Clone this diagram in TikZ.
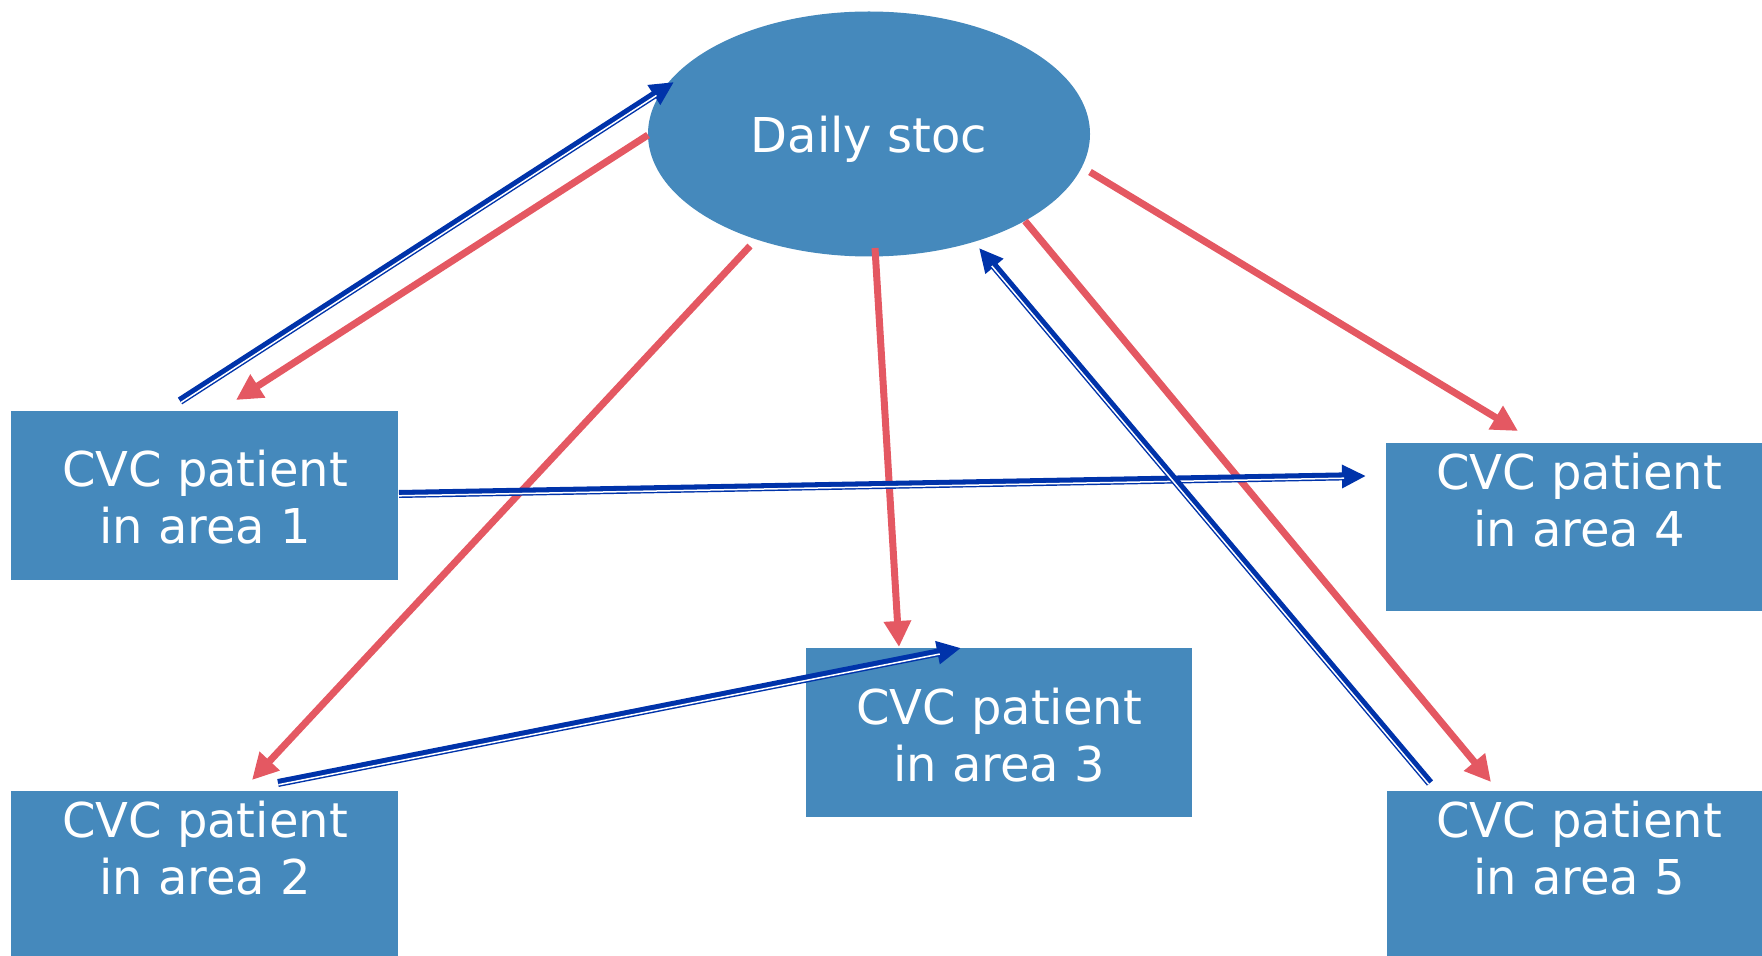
\documentclass[tikz,border=0pt]{standalone}
\usepackage{fontspec}
\setmainfont{DejaVu Sans}
\usetikzlibrary{calc,arrows.meta}
\definecolor{boxblue}{RGB}{69,137,188}
\definecolor{redarr}{RGB}{228,88,98}
\definecolor{bluearr}{RGB}{0,51,170}
\tikzset{
  box/.style={fill=boxblue,draw=none,inner sep=0pt},
  lbl/.style={text=white,align=center,font=\fontsize{24}{28.7}\selectfont,inner sep=0pt},
  redline/.style={draw=redarr,line width=3.5pt,-{Triangle[length=13pt,width=13pt]}},
  blueline/.style={draw=bluearr,line width=4pt,-{Triangle[length=12pt,width=11pt]}},
  gapline/.style={draw=white,line width=0.75pt,shorten >=11pt},
}
\newcommand{\bluearrow}[3]{%
  \draw[blueline] (#1) -- (#2);
  \draw[gapline] ($(#1)!0.9pt!#3:(#2)$) -- ($(#2)!0.9pt!-#3:(#1)$);
}
\begin{document}
\begin{tikzpicture}[x=0.5pt,y=-0.5pt]
\useasboundingbox (0,0) rectangle (1762,956);
% boxes
\fill[boxblue] (11,411) rectangle (398,580);
\node[box] (b1) at (204.5,495.5) {};
\fill[boxblue] (11,791) rectangle (398,956);
\node[box] (b2) at (204.5,873.5) {};
\fill[boxblue] (806,648) rectangle (1192,817);
\node[box] (b3) at (999,732.5) {};
\fill[boxblue] (1386,443) rectangle (1762,611);
\node[box] (b4) at (1574,527) {};
\fill[boxblue] (1387,791) rectangle (1762,956);
\node[box] (b5) at (1574.5,873.5) {};
\fill[boxblue] (869,134) ellipse [x radius=221,y radius=122.5];
\node[box] (stoc) at (869,134) {};
% labels
\node[lbl] (t1) at (205,497) {CVC patient\\in area 1};
\node[lbl] (t2) at (205,848) {CVC patient\\in area 2};
\node[lbl] (t3) at (999,735) {CVC patient\\in area 3};
\node[lbl] (t4) at (1579,500) {CVC patient\\in area 4};
\node[lbl] (t5) at (1579,848) {CVC patient\\in area 5};
\node[lbl] (ts) at (869,139) {Daily stoc};
% connector end points
\coordinate (b1s) at (180,401);
\coordinate (s1e) at (674,82);
\coordinate (s1r) at (648,135);
\coordinate (b1r) at (236,400);
\coordinate (s2r) at (750,246);
\coordinate (b2r) at (252,780);
\coordinate (s3r) at (875,248);
\coordinate (b3r) at (899,647);
\coordinate (b2s) at (278,783);
\coordinate (b3e) at (961,648);
\coordinate (b1e) at (399,494);
\coordinate (b4e) at (1366,476);
\coordinate (s4r) at (1090,172);
\coordinate (b4r) at (1518,431);
\coordinate (s5r) at (1025,221);
\coordinate (b5r) at (1491,782);
\coordinate (b5s) at (1430,783);
\coordinate (s5e) at (979,248);
% red arrows
\draw[redline] (s1r) -- (b1r);
\draw[redline] (s2r) -- (b2r);
\draw[redline] (s3r) -- (b3r);
\draw[redline] (s4r) -- (b4r);
\draw[redline] (s5r) -- (b5r);
% blue double arrows
\bluearrow{b1s}{s1e}{-90}
\bluearrow{b2s}{b3e}{-90}
\bluearrow{b1e}{b4e}{-90}
\bluearrow{b5s}{s5e}{90}
\end{tikzpicture}
\end{document}
